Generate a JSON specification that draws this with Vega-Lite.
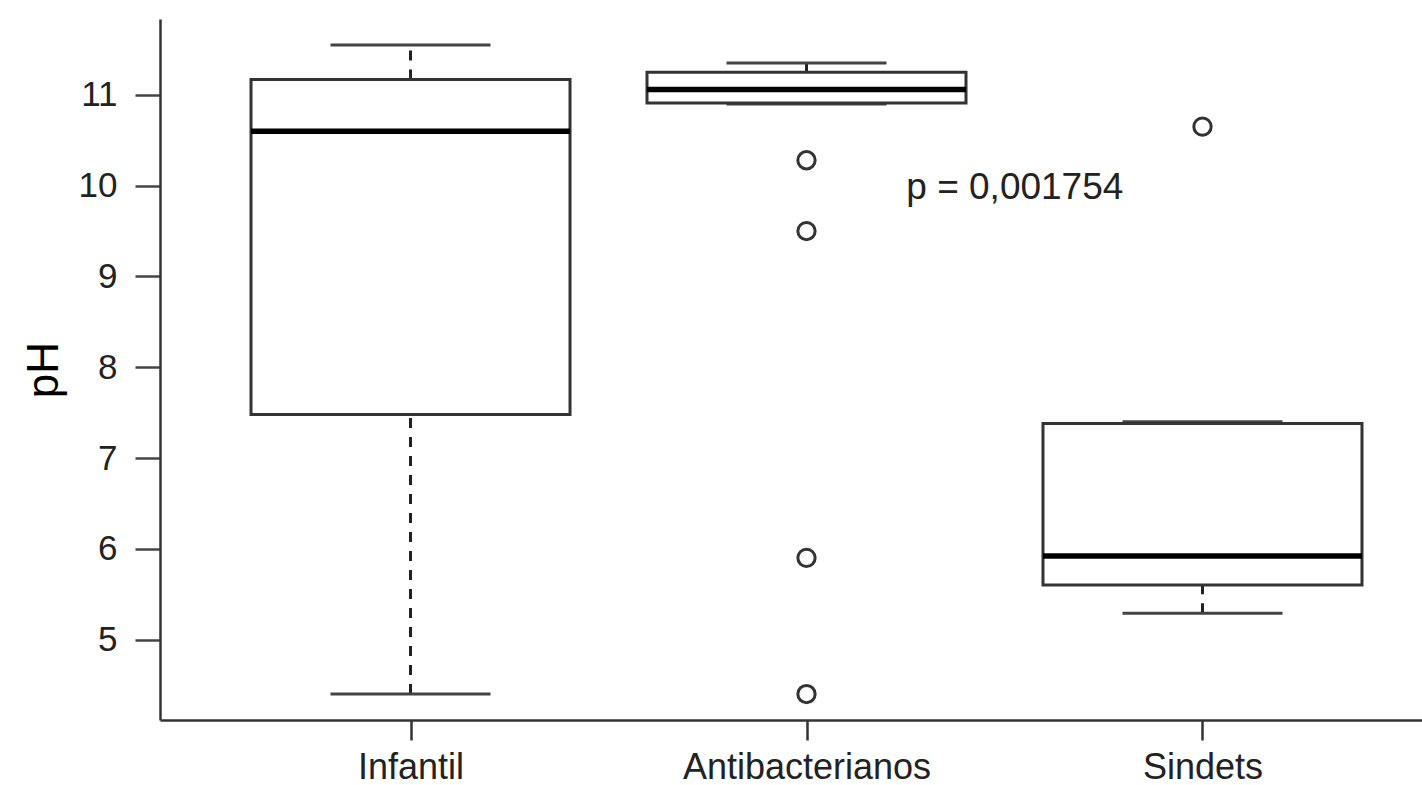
{
  "$schema": "https://vega.github.io/schema/vega-lite/v6.json",
  "autosize": "none",
  "padding": {"left": 160, "top": 19, "right": 0, "bottom": 66},
  "width": 1293,
  "height": 701,
  "background": "white",
  "config": {"view": {"stroke": null}, "font": "Liberation Sans"},
  "datasets": {
    "boxes": [
      {"grupo": "Infantil", "i": 1, "lower": 4.4, "q1": 7.48, "median": 10.6, "q3": 11.17, "upper": 11.55},
      {"grupo": "Antibacterianos", "i": 2, "lower": 10.9, "q1": 10.91, "median": 11.06, "q3": 11.25, "upper": 11.35},
      {"grupo": "Sindets", "i": 3, "lower": 5.29, "q1": 5.6, "median": 5.92, "q3": 7.38, "upper": 7.4}
    ],
    "outliers": [
      {"grupo": "Antibacterianos", "i": 2, "pH": 10.28},
      {"grupo": "Antibacterianos", "i": 2, "pH": 9.5},
      {"grupo": "Antibacterianos", "i": 2, "pH": 5.9},
      {"grupo": "Antibacterianos", "i": 2, "pH": 4.4},
      {"grupo": "Sindets", "i": 3, "pH": 10.65}
    ],
    "note": [
      {"i": 2.252, "pH": 9.97, "label": "p = 0,001754"}
    ]
  },
  "encoding": {
    "x": {
      "field": "i",
      "type": "quantitative",
      "scale": {"domain": [0.38, 3.62], "nice": false, "zero": false},
      "axis": {
        "title": null,
        "values": [1, 2, 3],
        "labelExpr": "datum.value == 1 ? 'Infantil' : datum.value == 2 ? 'Antibacterianos' : 'Sindets'",
        "grid": false,
        "domainColor": "#333333",
        "domainWidth": 2.5,
        "tickColor": "#333333",
        "tickWidth": 2.5,
        "tickSize": 20,
        "labelFontSize": 36,
        "labelColor": "#222222",
        "labelPadding": 10,
        "labelLimit": 0,
        "labelOverlap": false,
        "labelFont": "Liberation Sans"
      }
    }
  },
  "layer": [
    {
      "data": {"name": "boxes"},
      "mark": {"type": "rule", "color": "#222222", "strokeWidth": 3, "strokeDash": [10, 9]},
      "encoding": {
        "y": {
          "field": "lower",
          "type": "quantitative",
          "scale": {"domain": [4.114, 11.836], "nice": false, "zero": false},
          "axis": {
            "title": "pH",
            "values": [5, 6, 7, 8, 9, 10, 11],
            "format": "d",
            "grid": false,
            "domainColor": "#333333",
            "domainWidth": 2.5,
            "tickColor": "#444444",
            "tickWidth": 2.5,
            "tickSize": 25,
            "labelFontSize": 35,
            "labelColor": "#222222",
            "labelPadding": 18,
            "labelFont": "Liberation Sans",
            "titleFontSize": 44,
            "titleFont": "Liberation Sans",
            "titleFontWeight": "normal",
            "titleColor": "#000000",
            "titlePadding": 12
          }
        },
        "y2": {"field": "q1"}
      }
    },
    {
      "data": {"name": "boxes"},
      "mark": {"type": "rule", "color": "#222222", "strokeWidth": 3, "strokeDash": [10, 9]},
      "encoding": {
        "y": {"field": "q3", "type": "quantitative"},
        "y2": {"field": "upper"}
      }
    },
    {
      "data": {"name": "boxes"},
      "mark": {"type": "tick", "orient": "horizontal", "size": 160, "thickness": 3, "color": "#444444", "opacity": 1},
      "encoding": {"y": {"field": "lower", "type": "quantitative"}}
    },
    {
      "data": {"name": "boxes"},
      "mark": {"type": "tick", "orient": "horizontal", "size": 160, "thickness": 3, "color": "#444444", "opacity": 1},
      "encoding": {"y": {"field": "upper", "type": "quantitative"}}
    },
    {
      "data": {"name": "boxes"},
      "mark": {"type": "bar", "width": 319, "fill": "white", "stroke": "#333333", "strokeWidth": 3},
      "encoding": {
        "y": {"field": "q1", "type": "quantitative"},
        "y2": {"field": "q3"}
      }
    },
    {
      "data": {"name": "boxes"},
      "mark": {"type": "tick", "orient": "horizontal", "size": 319, "thickness": 5.5, "color": "#000000", "opacity": 1},
      "encoding": {"y": {"field": "median", "type": "quantitative"}}
    },
    {
      "data": {"name": "outliers"},
      "mark": {"type": "point", "shape": "circle", "size": 300, "filled": false, "stroke": "#333333", "strokeWidth": 3, "opacity": 1},
      "encoding": {"y": {"field": "pH", "type": "quantitative"}}
    },
    {
      "data": {"name": "note"},
      "mark": {"type": "text", "align": "left", "baseline": "middle", "fontSize": 37, "font": "Liberation Sans", "color": "#222222"},
      "encoding": {
        "y": {"field": "pH", "type": "quantitative"},
        "text": {"field": "label"}
      }
    }
  ]
}
